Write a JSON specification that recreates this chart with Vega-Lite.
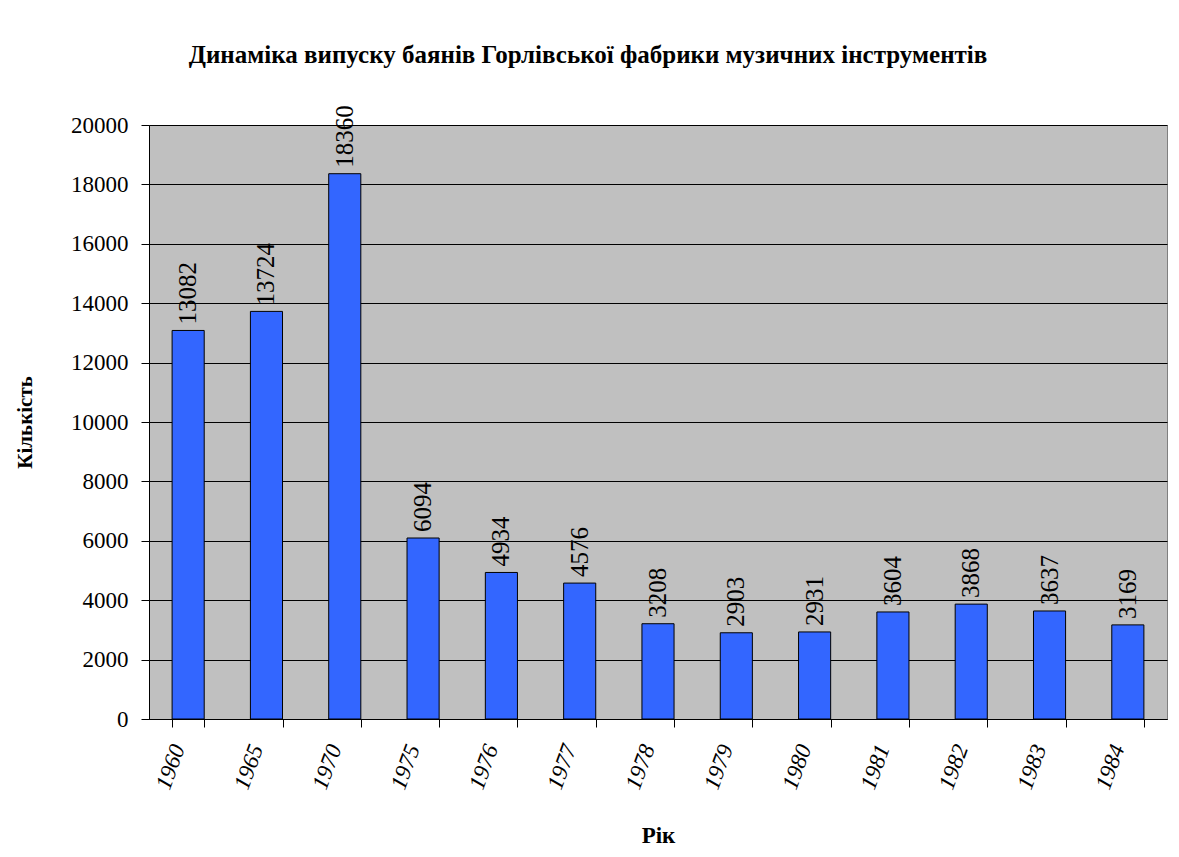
{
  "$schema": "https://vega.github.io/schema/vega-lite/v6.json",
  "autosize": "none",
  "width": 1018,
  "height": 594,
  "padding": {"left": 149, "top": 125, "right": 12, "bottom": 138},
  "background": "white",
  "config": {
    "font": "Liberation Serif, Times New Roman, serif",
    "view": {"fill": "#c0c0c0", "stroke": "#808080", "strokeWidth": 1}
  },
  "title": {
    "text": "Динаміка випуску баянів Горлівської  фабрики музичних інструментів",
    "font": "Liberation Serif, Times New Roman, serif",
    "fontSize": 25,
    "fontWeight": "bold",
    "color": "black",
    "anchor": "middle",
    "dx": -70,
    "offset": 37
  },
  "data": {
    "values": [
      {"year": "1960", "count": 13082},
      {"year": "1965", "count": 13724},
      {"year": "1970", "count": 18360},
      {"year": "1975", "count": 6094},
      {"year": "1976", "count": 4934},
      {"year": "1977", "count": 4576},
      {"year": "1978", "count": 3208},
      {"year": "1979", "count": 2903},
      {"year": "1980", "count": 2931},
      {"year": "1981", "count": 3604},
      {"year": "1982", "count": 3868},
      {"year": "1983", "count": 3637},
      {"year": "1984", "count": 3169}
    ]
  },
  "encoding": {
    "x": {
      "field": "year",
      "type": "ordinal",
      "sort": null,
      "scale": {"paddingInner": 0.59, "paddingOuter": 0.295},
      "axis": {
        "title": "Рік",
        "titleFont": "Liberation Serif, Times New Roman, serif",
        "titleFontSize": 23,
        "titleFontWeight": "bold",
        "titleColor": "black",
        "titlePadding": 32,
        "labelAngle": -70,
        "labelFont": "Liberation Serif, Times New Roman, serif",
        "labelFontSize": 23,
        "labelFontStyle": "italic",
        "labelColor": "black",
        "labelPadding": 18,
        "labelOffset": -10,
        "tickBand": "extent",
        "tickColor": "black",
        "tickSize": 8,
        "domainColor": "black",
        "grid": false
      }
    },
    "y": {
      "field": "count",
      "type": "quantitative",
      "scale": {"domain": [0, 20000], "nice": false},
      "axis": {
        "title": "Кількість",
        "titleFont": "Liberation Serif, Times New Roman, serif",
        "titleFontSize": 21,
        "titleFontWeight": "bold",
        "titleColor": "black",
        "titlePadding": 35,
        "values": [0, 2000, 4000, 6000, 8000, 10000, 12000, 14000, 16000, 18000, 20000],
        "format": "d",
        "labelFont": "Liberation Serif, Times New Roman, serif",
        "labelFontSize": 23,
        "labelColor": "black",
        "labelPadding": 13,
        "tickColor": "black",
        "tickSize": 8,
        "domainColor": "black",
        "grid": true,
        "gridColor": "black",
        "gridWidth": 1
      }
    }
  },
  "layer": [
    {
      "mark": {"type": "bar", "fill": "#3366ff", "stroke": "black", "strokeWidth": 1}
    },
    {
      "mark": {
        "type": "text",
        "angle": 270,
        "align": "left",
        "baseline": "middle",
        "dx": 6,
        "font": "Liberation Serif, Times New Roman, serif",
        "fontSize": 25,
        "color": "black"
      },
      "encoding": {"text": {"field": "count", "type": "quantitative", "format": "d"}}
    }
  ]
}
